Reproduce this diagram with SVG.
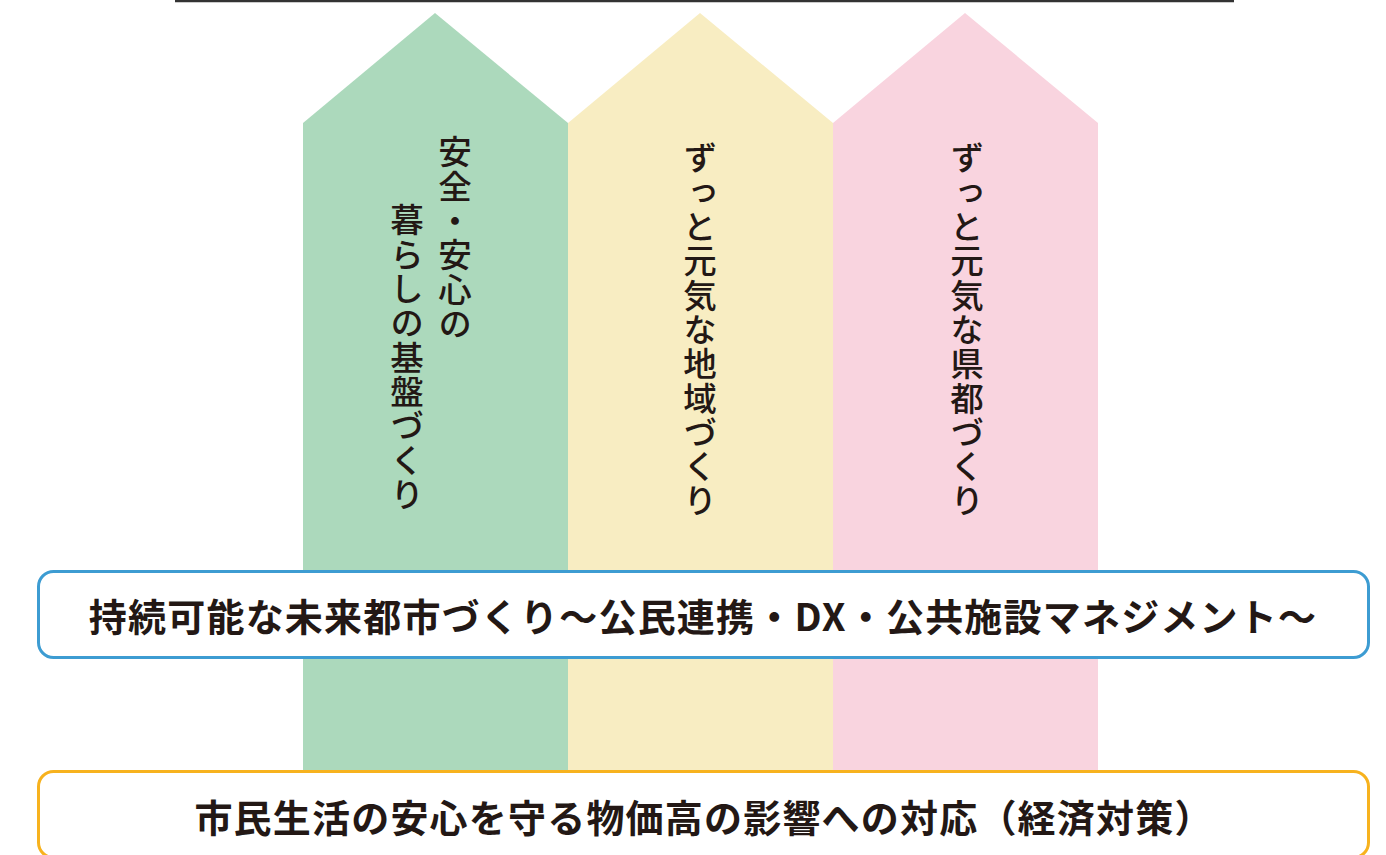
<svg xmlns="http://www.w3.org/2000/svg" width="1386" height="855" viewBox="0 0 1386 855">
<style>
.vt{font-family:"Noto Sans CJK JP","Noto Sans",sans-serif;font-size:33.5px;font-weight:500;fill:#231815;writing-mode:vertical-rl;letter-spacing:0.8px}
.bt{font-family:"Noto Sans CJK JP","Noto Sans",sans-serif;font-size:38px;font-weight:700;fill:#231815;text-anchor:middle;dominant-baseline:central;letter-spacing:1.2px}
.box{fill:#fff;stroke-width:3}
</style>
<rect width="1386" height="855" fill="#fff"/>
<line x1="175" y1="1" x2="1234" y2="1" stroke="#333" stroke-width="2.5"/>
<g id="pillar-green">
<polygon points="303,123 435,13 568,123 568,770 303,770" fill="#acd9bc"/>
<text class="vt" x="455" y="135">安全・安心の</text>
<text class="vt" x="407" y="203">暮らしの基盤づくり</text>
</g>
<g id="pillar-yellow">
<polygon points="568,123 700,13 833,123 833,770 568,770" fill="#f8edc2"/>
<text class="vt" x="700" y="141">ずっと元気な地域づくり</text>
</g>
<g id="pillar-pink">
<polygon points="833,123 965,13 1098,123 1098,770 833,770" fill="#f9d4df"/>
<text class="vt" x="967" y="141">ずっと元気な県都づくり</text>
</g>
<g id="box-blue">
<rect class="box" x="38.5" y="571.5" width="1330" height="86" rx="15" stroke="#3d9cd2"/>
<text class="bt" x="703" y="614">持続可能な未来都市づくり～公民連携・DX・公共施設マネジメント～</text>
</g>
<g id="box-orange">
<rect class="box" x="38.5" y="771.5" width="1330" height="86" rx="15" stroke="#f7b21e"/>
<text class="bt" x="704" y="815">市民生活の安心を守る物価高の影響への対応（経済対策）</text>
</g>
<g id="connectors"></g>
</svg>
